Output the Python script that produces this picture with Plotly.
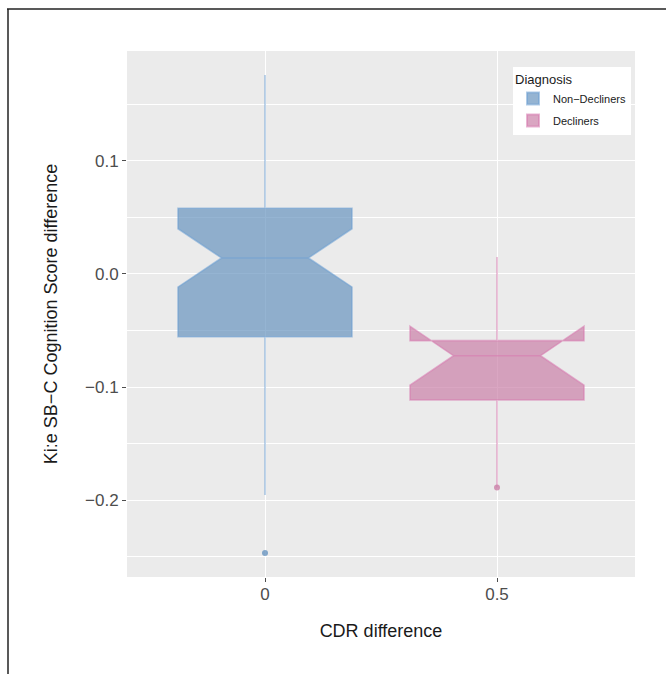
import plotly.graph_objects as go

# ---- data ----
groups = ["Non−Decliners", "Decliners"]
cdr_x = [0.0, 0.5]
q1 = [-0.0555, -0.1115]
median = [0.0142, -0.0723]
q3 = [0.0582, -0.0590]
lowerfence = [-0.1956, -0.1890]
upperfence = [0.1761, 0.0150]
notchspan = [0.0258, 0.0261]
outlier_x = [0.0, 0.5]
outlier_y = [-0.2469, -0.1890]
outlier_group = [0, 1]

fills = ["rgba(104,148,191,0.7)", "rgba(202,128,168,0.7)"]
lines = ["rgba(110,160,212,0.55)", "rgba(215,120,175,0.55)"]
points = ["rgba(104,148,191,0.8)", "rgba(202,128,168,0.8)"]

fig = go.Figure()
for i, g in enumerate(groups):
    fig.add_trace(go.Box(
        name=g,
        legendgroup=g,
        x=[cdr_x[i]],
        q1=[q1[i]], median=[median[i]], q3=[q3[i]],
        lowerfence=[lowerfence[i]], upperfence=[upperfence[i]],
        notchspan=[notchspan[i]],
        notched=True, notchwidth=0.25,
        width=0.375, whiskerwidth=0,
        fillcolor=fills[i],
        line=dict(color=lines[i], width=1.6),
        boxpoints=False,
        showlegend=True,
    ))

for k in range(len(outlier_x)):
    gi = outlier_group[k]
    fig.add_trace(go.Scatter(
        x=[outlier_x[k]], y=[outlier_y[k]], mode="markers",
        marker=dict(color=points[gi], size=6),
        legendgroup=groups[gi],
        showlegend=False, hoverinfo="skip",
    ))

W, H = 666, 674
L, R, T, B = 127, 635, 51, 577
pw, ph = R - L, B - T

def px(x):
    return (x - L) / pw

def py(y):
    return (B - y) / ph

# figure frame (top and left border)
fig.add_shape(type="line", xref="paper", yref="paper",
              x0=px(7), x1=px(666), y0=py(9), y1=py(9),
              line=dict(color="#222222", width=1.5))
fig.add_shape(type="line", xref="paper", yref="paper",
              x0=px(8), x1=px(8), y0=py(9), y1=py(674),
              line=dict(color="#222222", width=1.5))

font_family = "Liberation Sans, Arial, sans-serif"

fig.update_layout(
    width=W, height=H,
    margin=dict(l=L, r=W - R, t=T, b=H - B, pad=0),
    paper_bgcolor="white",
    plot_bgcolor="#EBEBEB",
    boxmode="overlay",
    font=dict(family=font_family, color="#1a1a1a"),
    xaxis=dict(
        range=[-0.2974, 0.7974],
        tickvals=[0, 0.5], ticktext=["0", "0.5"],
        showgrid=True, gridcolor="white", gridwidth=1.2,
        zeroline=False, showline=False,
        ticks="outside", ticklen=4, tickcolor="#4d4d4d", tickwidth=1,
        tickfont=dict(size=17, color="#4d4d4d"),
        ticklabelstandoff=-2,
        title=dict(text="CDR difference", font=dict(size=18, color="#1a1a1a"), standoff=20),
    ),
    yaxis=dict(
        range=[-0.2681, 0.1973],
        tickvals=[-0.2, -0.1, 0.0, 0.1], ticktext=["−0.2", "−0.1", "0.0", "0.1"],
        showgrid=True, gridcolor="white", gridwidth=1.2,
        minor=dict(tickvals=[-0.25, -0.15, -0.05, 0.05, 0.15], showgrid=True,
                   gridcolor="white", gridwidth=0.6, ticks=""),
        zeroline=False, showline=False,
        ticks="outside", ticklen=4, tickcolor="#4d4d4d", tickwidth=1,
        tickfont=dict(size=17, color="#4d4d4d"),
        title=dict(text="Ki:e SB−C Cognition Score difference",
                   font=dict(size=18, color="#1a1a1a"), standoff=22),
    ),
    legend=dict(
        x=px(513), y=py(67), xanchor="left", yanchor="top",
        bgcolor="white", borderwidth=0,
        title=dict(text="Diagnosis", font=dict(size=13, color="#1a1a1a")),
        font=dict(size=11, color="#1a1a1a"),
        itemsizing="constant",
        tracegroupgap=3,
    ),
)

fig.write_html("out.html", config={"displayModeBar": False},
               post_script="document.body.style.margin='0px';")
